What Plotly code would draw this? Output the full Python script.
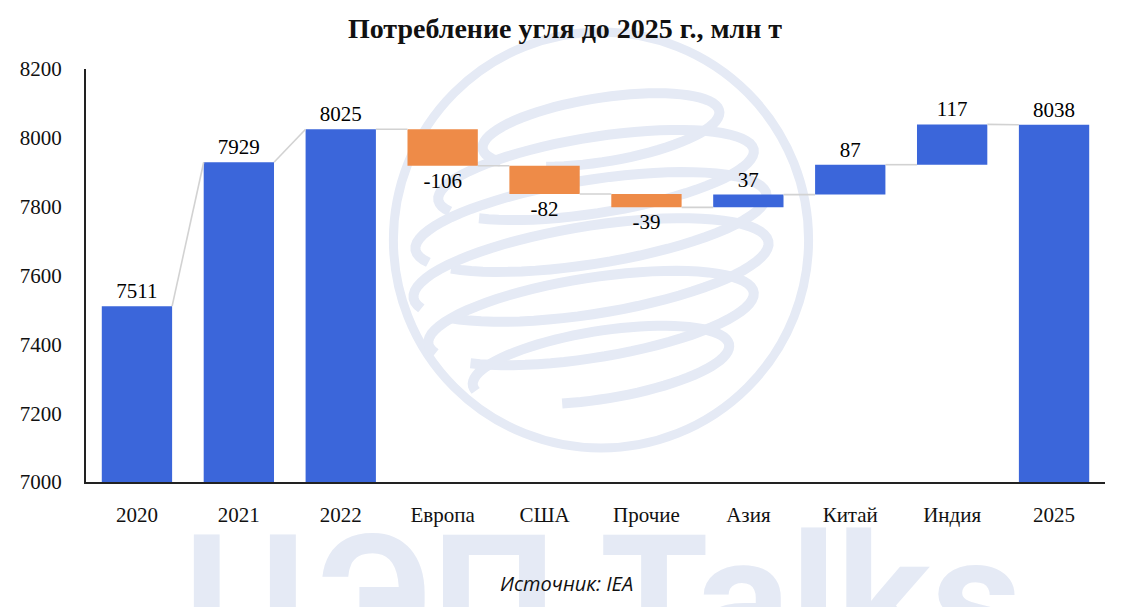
import math
import plotly.graph_objects as go

# ---------------- data ----------------
categories = ["2020", "2021", "2022", "Европа", "США", "Прочие", "Азия", "Китай", "Индия", "2025"]
values = [7511, 7929, 8025, -106, -82, -39, 37, 87, 117, 8038]
measures = ["absolute", "absolute", "absolute", "relative", "relative",
            "relative", "relative", "relative", "relative", "total"]
axis_floor = 7000
y_ticks = [7000, 7200, 7400, 7600, 7800, 8000, 8200]

title_text = "<b>Потребление угля до 2025 г., млн т</b>"
source_text = "<i>Источник: IEA</i>"
watermark_text = "<b>ЦЭП Talks</b>"

# ---------------- styling ----------------
BLUE = "rgb(59,102,218)"
ORANGE = "rgb(238,139,72)"
CONNECTOR = "rgb(210,210,210)"
WM = "rgb(229,234,245)"
SERIF = "Liberation Serif"
BAR_W = 0.69

OFF = 8                      # page body margin offset
W, H = 1130 - OFF, 607 - OFF
L, R, T, B = 84 - OFF, 25, 69 - OFF, 125

# ---------------- build floating bars ----------------
bases, heights, colors, texts = [], [], [], []
entry_levels, exit_levels = [], []
running = None
for v, m in zip(values, measures):
    if m in ("absolute", "total"):
        bases.append(axis_floor)
        heights.append(v - axis_floor)
        colors.append(BLUE)
        entry_levels.append(v)
        exit_levels.append(v)
        running = v
    else:
        bases.append(running)
        heights.append(v)
        colors.append(BLUE if v >= 0 else ORANGE)
        entry_levels.append(running)
        running = running + v
        exit_levels.append(running)
    texts.append(str(v))

xs = list(range(len(categories)))

fig = go.Figure()

# connectors
cx, cy = [], []
for i in range(len(xs) - 1):
    cx += [xs[i] + BAR_W / 2, xs[i + 1] - BAR_W / 2, None]
    cy += [exit_levels[i], entry_levels[i + 1], None]
fig.add_trace(go.Scatter(x=cx, y=cy, mode="lines",
                         line=dict(color=CONNECTOR, width=1.6),
                         hoverinfo="skip", showlegend=False))

fig.add_trace(go.Bar(
    x=xs, y=heights, base=bases, width=BAR_W,
    marker=dict(color=colors, line=dict(width=0)),
    text=texts, textposition="outside", constraintext="none",
    textfont=dict(family=SERIF, size=21, color="black"),
    cliponaxis=False, showlegend=False,
))

# ---------------- watermark (globe + text) ----------------
def px2paper(px, py):
    # px, py are page pixel coordinates
    fx, fy = px - OFF, py - OFF
    return (fx - L) / (W - L - R), (H - B - fy) / (H - T - B)

shapes = []
cx0, cy0, rr = 600, 240, 208
x0, y0 = px2paper(cx0 - rr, cy0 + rr)
x1, y1 = px2paper(cx0 + rr, cy0 - rr)
shapes.append(dict(type="circle", xref="paper", yref="paper", x0=x0, y0=y0, x1=x1, y1=y1,
                   line=dict(color=WM, width=9), layer="below"))

loops = [  # (center x, center y, rx, ry, start deg, end deg)
    (600, 130, 120, 32, 150, 480),
    (595, 175, 160, 38, 160, 500),
    (590, 222, 178, 42, 160, 505),
    (590, 270, 180, 44, 165, 505),
    (590, 318, 165, 40, 165, 500),
    (600, 365, 130, 34, 170, 470),
]
rot = math.radians(-9)
for (ex, ey, rx, ry, a0, a1) in loops:
    pts = []
    n = 70
    for k in range(n + 1):
        a = math.radians(a0 + (a1 - a0) * k / n)
        dx, dy = rx * math.cos(a), ry * math.sin(a)
        px = ex + dx * math.cos(rot) - dy * math.sin(rot)
        py = ey + dx * math.sin(rot) + dy * math.cos(rot)
        pts.append(px2paper(px, py))
    path = "M " + " L ".join(f"{p[0]:.4f},{p[1]:.4f}" for p in pts)
    shapes.append(dict(type="path", xref="paper", yref="paper", path=path,
                       line=dict(color=WM, width=10), layer="below"))

wx, wy = px2paper(180, 495)
sx, sy = px2paper(565, 583)

fig.update_layout(
    width=W, height=H,
    margin=dict(l=L, r=R, t=T, b=B, pad=0),
    paper_bgcolor="white", plot_bgcolor="rgba(0,0,0,0)",
    bargap=0.3,
    title=dict(text=title_text, x=(565 - OFF) / W, xref="container", xanchor="center",
               y=1 - (28 - OFF) / H, yref="container", yanchor="middle",
               font=dict(family=SERIF, size=28, color="#111")),
    xaxis=dict(range=[-0.5, len(xs) - 0.5], tickvals=xs, ticktext=categories,
               showline=True, linecolor="#222", linewidth=2, showgrid=False,
               zeroline=False, ticks="", ticklabelstandoff=13,
               tickfont=dict(family=SERIF, size=21, color="#111")),
    yaxis=dict(range=[y_ticks[0], y_ticks[-1]], tickvals=y_ticks,
               showline=True, linecolor="#222", linewidth=2, showgrid=False,
               zeroline=False, ticks="", ticklabelstandoff=18,
               tickfont=dict(family=SERIF, size=21, color="#111")),
    shapes=shapes,
    annotations=[
        dict(text=watermark_text, xref="paper", yref="paper", x=wx, y=wy,
             xanchor="left", yanchor="top", showarrow=False,
             font=dict(family="Roboto", size=176, color=WM)),
        dict(text=source_text, xref="paper", yref="paper", x=sx, y=sy,
             xanchor="center", yanchor="middle", showarrow=False,
             font=dict(family="Open Sans", size=20, color="#111")),
    ],
)

fig.write_html("out.html")
